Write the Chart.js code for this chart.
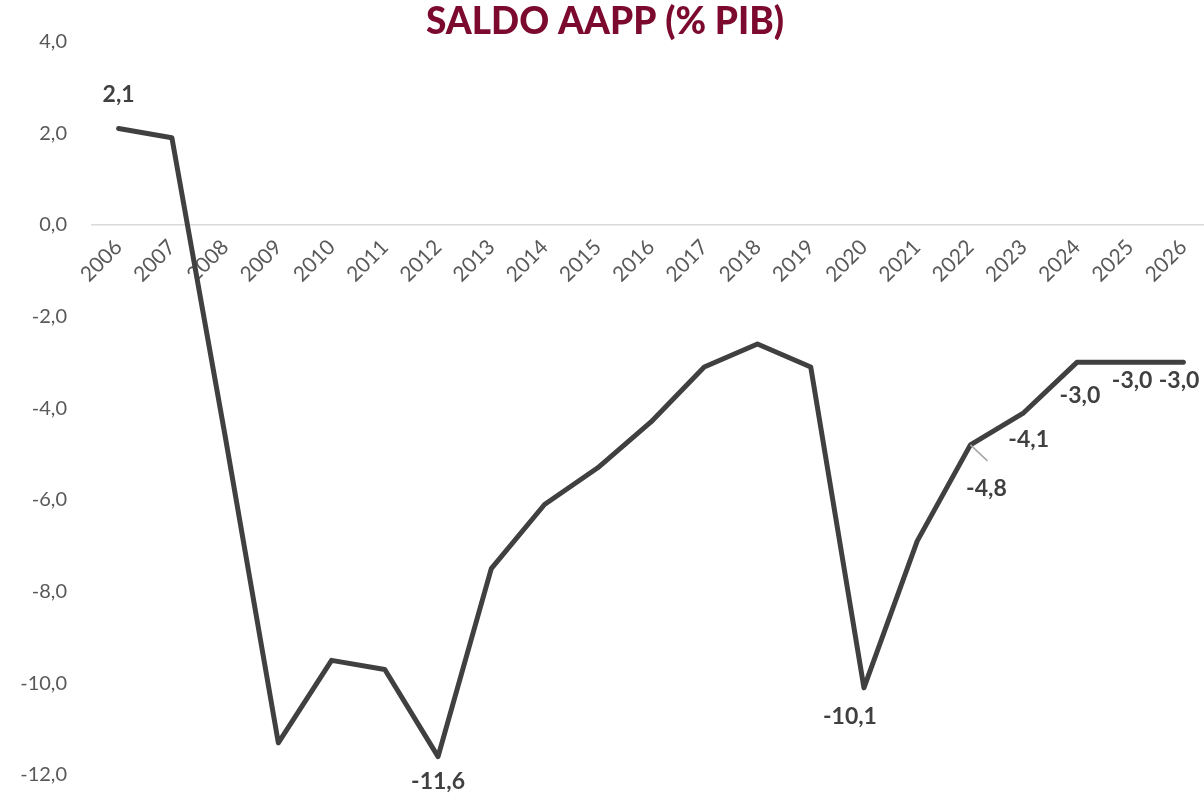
<!DOCTYPE html>
<html><head><meta charset="utf-8">
<script src="https://cdn.jsdelivr.net/npm/chart.js@4.4.1/dist/chart.umd.min.js"></script>
<style>html,body{margin:0;padding:0;background:#fff;overflow:hidden}#wrap{width:1204px;height:794px;overflow:hidden}</style>
</head><body><div id="wrap"><canvas id="c" width="1210" height="794"></canvas></div>
<script>
const years = ['2006','2007','2008','2009','2010','2011','2012','2013','2014','2015','2016','2017','2018','2019','2020','2021','2022','2023','2024','2025','2026'];
const saldo = [2.1,1.9,-4.6,-11.3,-9.5,-9.7,-11.6,-7.5,-6.1,-5.3,-4.3,-3.1,-2.6,-3.1,-10.1,-6.9,-4.8,-4.1,-3.0,-3.0,-3.0];
const labelledYears = ['2006','2012','2020','2022','2023','2024','2025','2026'];
const yTicks = [4,2,0,-2,-4,-6,-8,-10,-12];

const fmt = v => v.toFixed(1).replace('.', ',');
// label placement offsets (dx, dy in px, alignment) – style only
const labelPos = {
  '2006': {dx:0, dy:-34, align:'center'},
  '2012': {dx:0, dy:25, align:'center'},
  '2020': {dx:-14, dy:29, align:'center'},
  '2022': {dx:16, dy:44, align:'center', leader:true},
  '2023': {dx:5, dy:27, align:'center'},
  '2024': {dx:3, dy:33, align:'center'},
  '2025': {dx:2, dy:18, align:'center'},
  '2026': {dx:16, dy:18, align:'right'}
};

const labelPlugin = {
  id:'dlabels',
  afterDatasetsDraw(chart){
    const ctx = chart.ctx;
    const meta = chart.getDatasetMeta(0);
    ctx.save();
    ctx.font = 'bold 23px Lato, "Open Sans", sans-serif';
    ctx.fillStyle = '#404040';
    ctx.textBaseline = 'middle';
    labelledYears.forEach(y => {
      const i = years.indexOf(y);
      const pt = meta.data[i];
      const p = labelPos[y];
      if (p.leader){
        ctx.strokeStyle = '#a6a6a6';
        ctx.lineWidth = 1.5;
        ctx.beginPath();
        ctx.moveTo(pt.x, pt.y);
        ctx.lineTo(pt.x + 17, pt.y + 16);
        ctx.stroke();
      }
      ctx.textAlign = p.align;
      ctx.fillText(fmt(saldo[i]), pt.x + p.dx, pt.y + p.dy);
    });
    ctx.restore();
  }
};

new Chart(document.getElementById('c'), {
  type:'line',
  data:{labels:years, datasets:[{data:saldo, borderColor:'#404040', borderWidth:5, pointRadius:0, tension:0, fill:false, borderJoinStyle:'round', borderCapStyle:'round'}]},
  options:{
    responsive:false, animation:false,
    layout:{padding:{top:0,right:0,bottom:19,left:0}},
    plugins:{
      legend:{display:false}, tooltip:{enabled:false},
      title:{display:true, text:'SALDO AAPP (% PIB)', color:'#7B0A2E', font:{family:'Lato, "Open Sans", sans-serif', size:37, weight:'900'}, padding:{top:0,bottom:-3}}
    },
    scales:{
      x:{
        position:{y:0}, offset:true,
        afterFit(scale){ scale.paddingLeft = 0; scale.paddingRight = 0; },
        grid:{display:false, drawTicks:false},
        border:{display:true, color:'#d9d9d9', width:1.5},
        ticks:{color:'#595959', font:{family:'Lato, "Open Sans", sans-serif', size:21}, minRotation:45, maxRotation:45, padding:10, autoSkip:false}
      },
      y:{
        min:-12, max:4,
        afterBuildTicks(scale){ scale.ticks = yTicks.map(v=>({value:v})); },
        afterFit(scale){ scale.width = 92; scale.paddingTop = 0; scale.paddingBottom = 0; },
        grid:{display:false, drawTicks:false},
        border:{display:false},
        ticks:{color:'#595959', font:{family:'Lato, "Open Sans", sans-serif', size:20}, padding:25, callback:v=>fmt(v)}
      }
    }
  },
  plugins:[labelPlugin]
});
</script></body></html>
